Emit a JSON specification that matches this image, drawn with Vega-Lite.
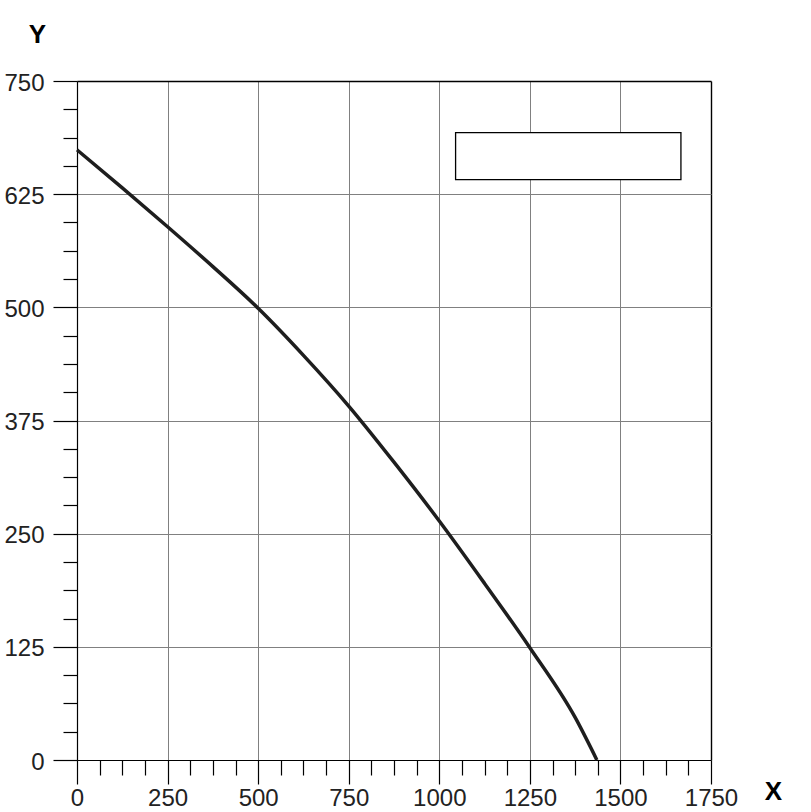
{
  "$schema": "https://vega.github.io/schema/vega-lite/v6.json",
  "width": 634,
  "height": 679,
  "autosize": {"type": "none"},
  "padding": {"left": 77, "top": 81, "right": 100, "bottom": 52},
  "background": "white",
  "config": {"view": {"stroke": null}, "font": "Liberation Sans"},
  "layer": [
    {
      "data": {"values": [
        {"x": 0, "y": 674},
        {"x": 125, "y": 632},
        {"x": 250, "y": 589},
        {"x": 375, "y": 545},
        {"x": 500, "y": 499},
        {"x": 625, "y": 447},
        {"x": 750, "y": 391},
        {"x": 875, "y": 329},
        {"x": 1000, "y": 264},
        {"x": 1125, "y": 195},
        {"x": 1250, "y": 124},
        {"x": 1375, "y": 47},
        {"x": 1435, "y": 0}
      ]},
      "mark": {"type": "line", "color": "#1e1e1e", "strokeWidth": 3.5, "clip": false, "interpolate": "monotone"},
      "encoding": {
        "x": {
          "field": "x", "type": "quantitative", "title": "X",
          "scale": {"domain": [0, 1750], "nice": false, "zero": true},
          "axis": {
            "values": [0,62.5,125,187.5,250,312.5,375,437.5,500,562.5,625,687.5,750,812.5,875,937.5,1000,1062.5,1125,1187.5,1250,1312.5,1375,1437.5,1500,1562.5,1625,1687.5,1750],
            "tickCount": 100,
            "labelExpr": "datum.value % 250 === 0 ? format(datum.value, 'd') : ''",
            "labelFont": "Liberation Sans", "labelFontSize": 24, "labelColor": "#222222",
            "labelPadding": 2, "labelOverlap": false, "labelFlush": false,
            "tickSize": {"condition": {"test": "datum.value % 250 === 0", "value": 24}, "value": 15},
            "tickColor": "black", "tickWidth": 1.2,
            "domainColor": "black", "domainWidth": 1.2,
            "grid": true,
            "gridColor": {"condition": {"test": "datum.value === 1750", "value": "black"}, "value": "#808080"},
            "gridOpacity": {"condition": {"test": "datum.value % 250 === 0", "value": 1}, "value": 0},
            "gridWidth": {"condition": {"test": "datum.value === 1750", "value": 1.4}, "value": 1},
            "title": "X", "titleFont": "Liberation Sans", "titleFontSize": 26, "titleFontWeight": "bold", "titleColor": "black",
            "titleX": 696, "titleY": 31, "titleAlign": "center", "titleBaseline": "middle", "titleAngle": 0, "titleAnchor": null
          }
        },
        "y": {
          "field": "y", "type": "quantitative", "title": "Y",
          "scale": {"domain": [0, 750], "nice": false, "zero": true},
          "axis": {
            "values": [0,31.25,62.5,93.75,125,156.25,187.5,218.75,250,281.25,312.5,343.75,375,406.25,437.5,468.75,500,531.25,562.5,593.75,625,656.25,687.5,718.75,750],
            "tickCount": 100,
            "labelExpr": "datum.value % 125 === 0 ? format(datum.value, 'd') : ''",
            "labelFont": "Liberation Sans", "labelFontSize": 24, "labelColor": "#222222",
            "labelPadding": 9, "labelOffset": 2, "labelOverlap": false, "labelFlush": false,
            "tickSize": {"condition": {"test": "datum.value % 125 === 0", "value": 24}, "value": 14},
            "tickColor": "black", "tickWidth": 1.2,
            "domainColor": "black", "domainWidth": 1.2,
            "grid": true,
            "gridColor": {"condition": {"test": "datum.value === 750", "value": "black"}, "value": "#808080"},
            "gridOpacity": {"condition": {"test": "datum.value % 125 === 0", "value": 1}, "value": 0},
            "gridWidth": {"condition": {"test": "datum.value === 750", "value": 1.4}, "value": 1},
            "title": "Y", "titleFont": "Liberation Sans", "titleFontSize": 26, "titleFontWeight": "bold", "titleColor": "black",
            "titleX": -40, "titleY": -47, "titleAlign": "center", "titleBaseline": "middle", "titleAngle": 0, "titleAnchor": null
          }
        }
      }
    },
    {
      "data": {"values": [{"x1": 1045, "x2": 1667, "y1": 641, "y2": 693}]},
      "mark": {"type": "rect", "fill": "white", "stroke": "black", "strokeWidth": 1.3},
      "encoding": {
        "x": {"field": "x1", "type": "quantitative", "title": "X"},
        "x2": {"field": "x2"},
        "y": {"field": "y1", "type": "quantitative", "title": "Y"},
        "y2": {"field": "y2"}
      }
    }
  ]
}
